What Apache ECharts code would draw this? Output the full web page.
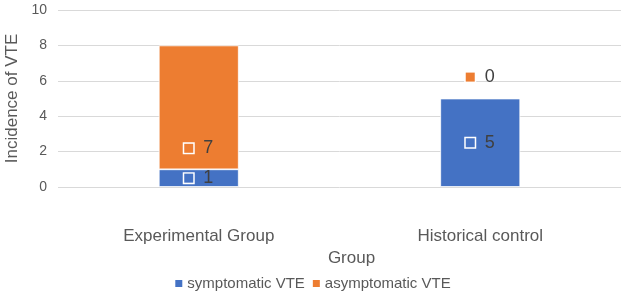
<!DOCTYPE html>
<html><head><meta charset="utf-8">
<script src="https://cdn.jsdelivr.net/npm/echarts@6/dist/echarts.min.js"></script>
<style>html,body{margin:0;padding:0;background:#fff}#c{width:624px;height:296px}</style>
</head><body><div id="c"></div>
<script>
const categories = ['Experimental Group', 'Historical control'];
const symptomatic = [1, 5];
const asymptomatic = [7, 0];
const yTicks = [0, 2, 4, 6, 8, 10];
const seriesNames = ['symptomatic VTE', 'asymptomatic VTE'];
const colors = ['#4472C4', '#ED7D31'];
const FONT = 'Liberation Sans, Arial, sans-serif';

function richFor(color) {
  return {
    sq: { width: 9, height: 9, backgroundColor: color, borderColor: '#fff', borderWidth: 1.5 },
    t: { fontSize: 18, color: '#404040', fontFamily: FONT, padding: [0, 0, 0, 10] }
  };
}
const fmt = p => '{sq|}{t|' + p.value + '}';

const chart = echarts.init(document.getElementById('c'));
chart.setOption({
  animation: false,
  grid: { left: 58, right: 3, top: 10, bottom: 109, outerBoundsMode: 'none', containLabel: false },
  legend: {
    data: seriesNames, bottom: 0, left: 'center', itemWidth: 9, itemHeight: 9, itemGap: 6,
    icon: 'rect', textStyle: { fontSize: 15, color: '#595959', fontFamily: FONT, padding: [0, 0, 0, -1] }
  },
  xAxis: {
    type: 'category', data: categories,
    name: 'Group', nameLocation: 'middle', nameGap: 63,
    nameTextStyle: { fontSize: 17, color: '#595959', fontFamily: FONT, padding: [0, 0, 0, 24] },
    axisLine: { show: false }, axisTick: { show: false },
    axisLabel: { fontSize: 17, color: '#595959', fontFamily: FONT, margin: 41 }
  },
  yAxis: {
    type: 'value', min: 0, max: 10, interval: 2,
    name: 'Incidence of VTE', nameLocation: 'middle', nameGap: 33,
    nameTextStyle: { fontSize: 17, color: '#595959', fontFamily: FONT },
    axisLabel: { fontSize: 14, color: '#595959', fontFamily: FONT, margin: 11 },
    splitLine: { lineStyle: { color: '#d9d9d9', width: 1 } }
  },
  series: [
    {
      name: seriesNames[0], type: 'bar', stack: 'a', barWidth: 80,
      itemStyle: { color: colors[0], borderColor: '#fff', borderWidth: 0.8 },
      label: { show: true, position: 'inside', formatter: fmt, rich: richFor(colors[0]) },
      data: symptomatic
    },
    {
      name: seriesNames[1], type: 'bar', stack: 'a', barWidth: 80,
      itemStyle: { color: colors[1], borderColor: '#fff', borderWidth: 0.8 },
      label: { show: true, position: 'insideBottom', distance: 12, formatter: fmt, rich: richFor(colors[1]) },
      data: asymptomatic.map((v, i) => v === 0
        ? { value: v, label: { position: 'top', distance: 12 } }
        : v)
    }
  ]
});
</script></body></html>
